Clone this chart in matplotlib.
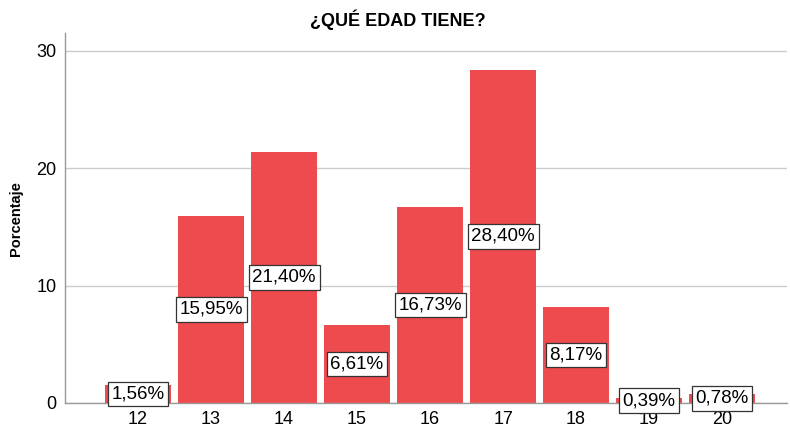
import matplotlib.pyplot as plt

# données
edades = ['12', '13', '14', '15', '16', '17', '18', '19', '20']
porcentaje = [1.56, 15.95, 21.40, 6.61, 16.73, 28.40, 8.17, 0.39, 0.78]
etiquetas = ['1,56%', '15,95%', '21,40%', '6,61%', '16,73%', '28,40%', '8,17%', '0,39%', '0,78%']

plt.rcParams['font.family'] = ['Liberation Sans', 'DejaVu Sans']

figure = plt.figure(figsize=(7.9, 4.3), dpi=100)
axes = figure.add_axes([0.0823, 0.0628, 0.914, 0.86])

x = list(range(len(edades)))
axes.bar(x, porcentaje, width=0.9, color='#ED4B4D', zorder=2)

for i in x:
    axes.text(i, porcentaje[i] / 2, etiquetas[i], ha='center', va='center', fontsize=13.5,
              zorder=3, bbox=dict(boxstyle='square,pad=0.2', facecolor='white',
                                  edgecolor='#333333', linewidth=0.9))

axes.set_xlim(-1, 8.89)
axes.set_ylim(0, 31.5)
axes.set_xticks(x)
axes.set_xticklabels(edades, fontsize=13)
axes.set_yticks([0, 10, 20, 30])
axes.tick_params(axis='x', length=0, pad=6)
axes.tick_params(axis='y', length=0, labelsize=13, pad=6)
axes.grid(axis='y', color='#CCCCCC', linewidth=1, zorder=0)

for cote in ['top', 'right']:
    axes.spines[cote].set_visible(False)
for cote in ['left', 'bottom']:
    axes.spines[cote].set_color('#999999')
    axes.spines[cote].set_linewidth(1)

axes.set_ylabel('Porcentaje', fontsize=10.5, fontweight='bold')
axes.yaxis.set_label_coords(-0.058, 0.5)
figure.text(0.503, 0.953, '¿QUÉ EDAD TIENE?', ha='center', va='center', fontsize=13, fontweight='bold')

figure.savefig('out.png', dpi=100)
